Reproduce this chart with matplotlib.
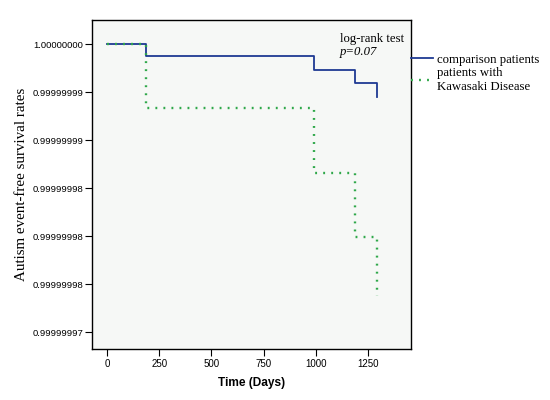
import matplotlib
matplotlib.use("Agg")
import matplotlib.pyplot as plt
from matplotlib.lines import Line2D

# Kaplan-Meier style step data (days, survival probability)
comp_days = [0, 185, 990, 1188, 1295]
comp_surv = [1.0, 1 - 1.28e-9, 1 - 2.74e-9, 1 - 4.03e-9, 1 - 5.49e-9]

kd_days = [0, 185, 990, 1188, 1295]
kd_surv = [1.0, 1 - 6.67e-9, 1 - 13.4e-9, 1 - 20.1e-9, 1 - 26.3e-9]

ytick_vals = [1 - k * 5e-9 for k in range(7)]
ytick_labels = ["1.00000000", "0.99999999", "0.99999999", "0.99999998",
                "0.99999998", "0.99999998", "0.99999997"]
xtick_vals = [0, 250, 500, 750, 1000, 1250]

blue = "#1f3a93"
green = "#2fa84a"
serif = "Liberation Serif"
sans = "Liberation Sans"

fig = plt.figure(figsize=(5.5, 4.0), dpi=100)
ax = fig.add_axes([0.167, 0.1275, 0.58, 0.8225])
ax.set_facecolor("#f6f8f6")

ax.step(comp_days, comp_surv, where="post", color=blue, lw=1.3)
ax.step(kd_days, kd_surv, where="post", color=green, lw=1.7,
        linestyle=(0, (0.8, 2.6)))

ax.set_xlim(-73, 1456)
ax.set_ylim(1 - 31.77e-9, 1 + 2.5e-9)
ax.set_yticks(ytick_vals)
ax.set_yticklabels(ytick_labels, fontfamily=sans, fontsize=6.8)
ax.set_xticks(xtick_vals)
ax.set_xticklabels([str(v) for v in xtick_vals], fontfamily=sans, fontsize=7)
ax.tick_params(direction="out", length=5, width=0.8, pad=1)
ax.tick_params(axis="x", pad=2)
for s in ax.spines.values():
    s.set_linewidth(1.0)

ax.set_xlabel("Time (Days)", fontfamily=sans, fontweight="bold", fontsize=8.6, labelpad=6)
ax.set_ylabel("Autism event-free survival rates", fontfamily=serif, fontsize=10.8, labelpad=3)

ax.text(0.778, 0.942, "log-rank test", transform=ax.transAxes, fontfamily=serif,
        fontsize=9.2, va="center")
ax.text(0.778, 0.902, "p=0.07", transform=ax.transAxes, fontfamily=serif,
        fontsize=9.2, style="italic", va="center")

handles = [Line2D([], [], color=blue, lw=1.3),
           Line2D([], [], color=green, lw=1.7, linestyle=(0, (0.8, 2.6)))]
ax.legend(handles, ["comparison patients", "patients with\nKawasaki Disease"],
          loc="upper left", bbox_to_anchor=(1.0, 0.898), frameon=False,
          prop={"family": serif, "size": 9.2}, handlelength=1.7,
          handletextpad=0.35, borderaxespad=0, borderpad=0, labelspacing=0.15)

fig.savefig("out.png", dpi=100)
